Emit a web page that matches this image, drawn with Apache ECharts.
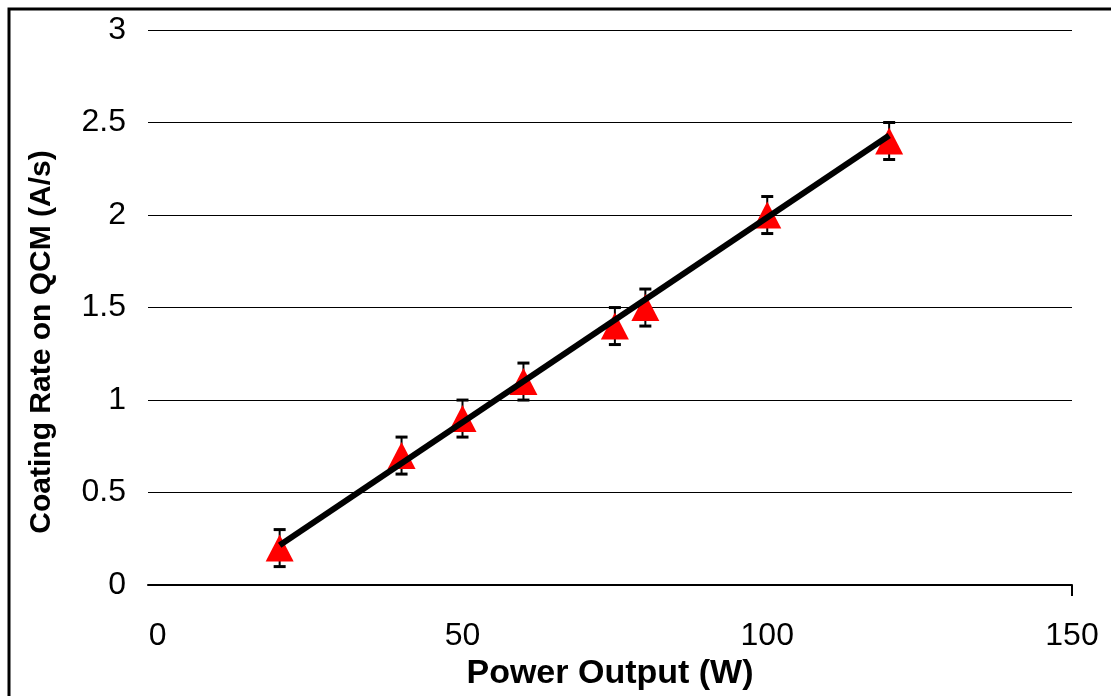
<!DOCTYPE html>
<html>
<head>
<meta charset="utf-8">
<title>Coating Rate vs Power Output</title>
<script src="https://cdn.jsdelivr.net/npm/echarts@6/dist/echarts.min.js"></script>
<style>
  html, body { margin: 0; padding: 0; background: #ffffff; overflow: hidden; }
  #chart { width: 1111px; height: 696px; }
</style>
</head>
<body>
<div id="chart"></div>
<script>
// Measured coating rate on the QCM at each power setting
const powerW = [20, 40, 50, 60, 75, 80, 100, 120];
const rateAs = [0.2, 0.7, 0.9, 1.1, 1.4, 1.5, 2.0, 2.4];
const rateErr = [0.1, 0.1, 0.1, 0.1, 0.1, 0.1, 0.1, 0.1];

// Linear trend line end points
const trendX = [20, 120];
const trendY = [0.215, 2.43];

// Axis tick labels
const xTicks = [0, 50, 100, 150];
const yMin = 0, yMax = 3, yStep = 0.5;

const FONT = '"Liberation Sans", Arial, Helvetica, sans-serif';

const points = powerW.map((x, i) => [x, rateAs[i]]);
const errData = powerW.map((x, i) => [x, rateAs[i], rateErr[i]]);
const trendData = trendX.map((x, i) => [x, trendY[i]]);

const chart = echarts.init(document.getElementById('chart'), null, { renderer: 'canvas', width: 1111, height: 696 });

chart.setOption({
  animation: false,
  backgroundColor: '#ffffff',
  grid: { left: 148, top: 30, width: 924, height: 560, containLabel: false },
  xAxis: {
    type: 'value',
    min: -1.6,
    max: 150,
    name: 'Power Output (W)',
    nameLocation: 'middle',
    nameGap: 62,
    nameTextStyle: { fontFamily: FONT, fontWeight: 'bold', fontSize: 34, color: '#000' },
    axisLine: { show: true, lineStyle: { color: '#000', width: 2 } },
    axisTick: { show: true, customValues: [150], length: 11, inside: false, lineStyle: { color: '#000', width: 2 } },
    axisLabel: { customValues: xTicks, fontFamily: FONT, fontSize: 32, color: '#000', margin: 35 },
    splitLine: { show: false }
  },
  yAxis: {
    type: 'value',
    min: yMin,
    max: yMax,
    interval: yStep,
    axisLine: { show: false },
    axisTick: { show: false },
    axisLabel: { fontFamily: FONT, fontSize: 32, color: '#000', margin: 22 },
    splitLine: { show: true, lineStyle: { color: '#000', width: 1 } }
  },
  graphic: [
    {
      type: 'rect',
      silent: true,
      shape: { x: 9, y: 9, width: 1300, height: 900 },
      style: { fill: 'none', stroke: '#000', lineWidth: 3 },
      z: 100
    },
    {
      type: 'text',
      silent: true,
      x: 42,
      y: 342,
      rotation: Math.PI / 2,
      style: {
        text: 'Coating Rate on QCM (A/s)',
        fontFamily: FONT,
        fontWeight: 'bold',
        fontSize: 30,
        fill: '#000',
        align: 'center',
        verticalAlign: 'middle'
      }
    }
  ],
  series: [
    {
      name: 'error',
      type: 'custom',
      z: 2,
      data: errData,
      renderItem: function (params, api) {
        const x = api.value(0), y = api.value(1), e = api.value(2);
        const top = api.coord([x, y + e]);
        const bot = api.coord([x, y - e]);
        const cap = 6;
        return {
          type: 'group',
          children: [
            { type: 'line', shape: { x1: top[0], y1: top[1], x2: bot[0], y2: bot[1] }, style: { stroke: '#000', lineWidth: 2 } },
            { type: 'line', shape: { x1: top[0] - cap, y1: top[1], x2: top[0] + cap, y2: top[1] }, style: { stroke: '#000', lineWidth: 3 } },
            { type: 'line', shape: { x1: bot[0] - cap, y1: bot[1], x2: bot[0] + cap, y2: bot[1] }, style: { stroke: '#000', lineWidth: 3 } }
          ]
        };
      }
    },
    {
      name: 'rate',
      type: 'scatter',
      z: 3,
      symbol: 'triangle',
      symbolSize: [28, 27],
      itemStyle: { color: '#ff0000', opacity: 1 },
      data: points
    },
    {
      name: 'trend',
      type: 'line',
      z: 4,
      symbol: 'none',
      lineStyle: { color: '#000', width: 6 },
      data: trendData
    }
  ]
});
</script>
</body>
</html>
